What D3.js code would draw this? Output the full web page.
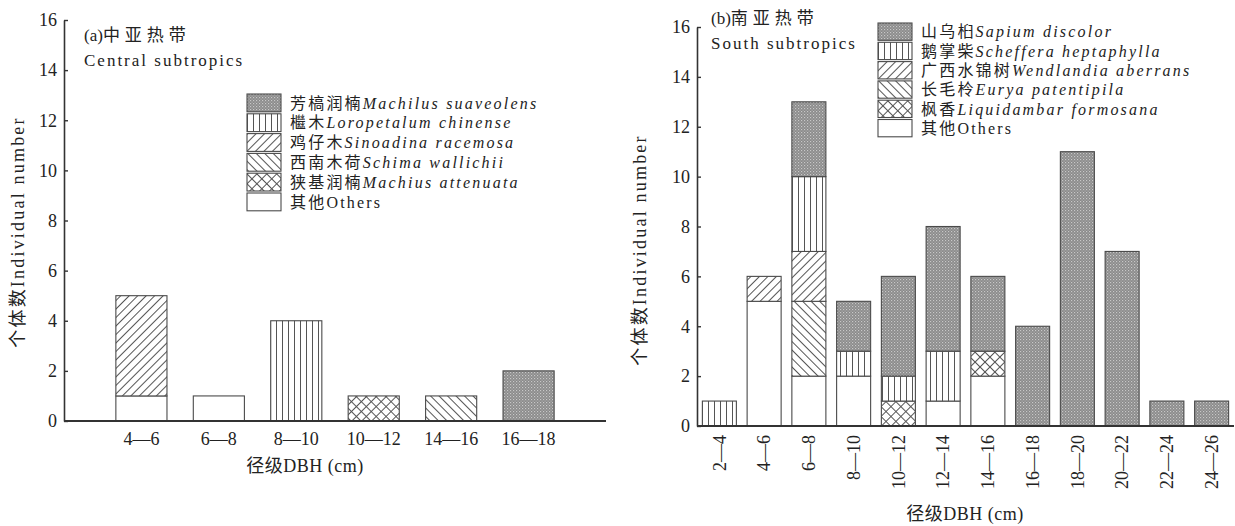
<!DOCTYPE html>
<html>
<head>
<meta charset="utf-8">
<script src="https://cdn.jsdelivr.net/npm/d3@7"></script>
<style>
  body { margin: 0; background: #fff; }
  svg { display: block; }
</style>
</head>
<body>
<svg id="chart" width="1235" height="526"></svg>
<script>
// ---- panel (a) data ----
const catsA = ['4—6', '6—8', '8—10', '10—12', '14—16', '16—18'];
const aSuaveolens = [0, 0, 0, 0, 0, 2];
const aLoropetalum = [0, 0, 4, 0, 0, 0];
const aSinoadina = [4, 0, 0, 0, 0, 0];
const aSchima = [0, 0, 0, 0, 1, 0];
const aAttenuata = [0, 0, 0, 1, 0, 0];
const aOthers = [1, 1, 0, 0, 0, 0];
const legendA = [
  ['芳槁润楠', 'Machilus suaveolens'],
  ['檵木', 'Loropetalum chinense'],
  ['鸡仔木', 'Sinoadina racemosa'],
  ['西南木荷', 'Schima wallichii'],
  ['狭基润楠', 'Machius attenuata'],
  ['其他', 'Others']
];

// ---- panel (b) data ----
const catsB = ['2—4', '4—6', '6—8', '8—10', '10—12', '12—14', '14—16', '16—18', '18—20', '20—22', '22—24', '24—26'];
const bSapium = [0, 0, 3, 2, 4, 5, 3, 4, 11, 7, 1, 1];
const bScheffera = [1, 0, 3, 1, 1, 2, 0, 0, 0, 0, 0, 0];
const bWendlandia = [0, 1, 2, 0, 0, 0, 0, 0, 0, 0, 0, 0];
const bEurya = [0, 0, 3, 0, 0, 0, 0, 0, 0, 0, 0, 0];
const bLiquidambar = [0, 0, 0, 0, 1, 0, 1, 0, 0, 0, 0, 0];
const bOthers = [0, 5, 2, 2, 0, 1, 2, 0, 0, 0, 0, 0];
const legendB = [
  ['山乌桕', 'Sapium discolor'],
  ['鹅掌柴', 'Scheffera heptaphylla'],
  ['广西水锦树', 'Wendlandia aberrans'],
  ['长毛柃', 'Eurya patentipila'],
  ['枫香', 'Liquidambar formosana'],
  ['其他', 'Others']
];

const yTicks = [0, 2, 4, 6, 8, 10, 12, 14, 16];
// legend order (top->bottom) uses these fills; stacks go the other way
const fills = ['url(#p-dark)', 'url(#p-vert)', 'url(#p-slash)', 'url(#p-back)', 'url(#p-cross)', '#fff'];

const SERIF = '"Liberation Serif", "Times New Roman", serif';
const CJK = '"Noto Sans CJK SC", sans-serif';

const svg = d3.select('#chart');
const defs = svg.append('defs');

// patterns
const dark = defs.append('pattern').attr('id', 'p-dark').attr('patternUnits', 'userSpaceOnUse')
  .attr('width', 3).attr('height', 3);
dark.append('rect').attr('width', 3).attr('height', 3).attr('fill', '#8a8a8a');
dark.append('rect').attr('x', 0).attr('y', 0).attr('width', 1.2).attr('height', 1.2).attr('fill', '#c8c8c8');
dark.append('rect').attr('x', 1.5).attr('y', 1.5).attr('width', 1.2).attr('height', 1.2).attr('fill', '#b0b0b0');

const hatch = (id, size, angle) => {
  const p = defs.append('pattern').attr('id', id).attr('patternUnits', 'userSpaceOnUse')
    .attr('width', size).attr('height', size);
  if (angle !== null) p.attr('patternTransform', `rotate(${angle})`);
  p.append('rect').attr('width', size).attr('height', size).attr('fill', '#fff');
  p.append('line').attr('x1', 0.5).attr('x2', 0.5).attr('y1', 0).attr('y2', size)
    .attr('stroke', '#555').attr('stroke-width', 1);
  return p;
};
hatch('p-vert', 6, null);
hatch('p-slash', 6, 45);
hatch('p-back', 6, -45);
const cross = defs.append('pattern').attr('id', 'p-cross').attr('patternUnits', 'userSpaceOnUse')
  .attr('width', 7).attr('height', 7).attr('patternTransform', 'rotate(45)');
cross.append('rect').attr('width', 7).attr('height', 7).attr('fill', '#fff');
cross.append('line').attr('x1', 0.5).attr('x2', 0.5).attr('y1', 0).attr('y2', 7).attr('stroke', '#555');
cross.append('line').attr('y1', 0.5).attr('y2', 0.5).attr('x1', 0).attr('x2', 7).attr('stroke', '#555');

// write mixed Chinese / Latin text as separate tspans so each gets its own font
const mixed = (sel, cn, latin, italic) => {
  sel.append('tspan').style('font-family', CJK).text(cn);
  sel.append('tspan').style('font-family', SERIF)
    .style('font-style', italic ? 'italic' : 'normal').text(latin);
};

function drawPanel(cfg) {
  const g = svg.append('g');
  const keys = ['others', 'cross', 'back', 'slash', 'vert', 'dark'];
  const rows = cfg.cats.map((c, i) => {
    const r = { cat: c };
    keys.forEach((k, j) => { r[k] = cfg.series[j][i]; });
    return r;
  });
  const fillOf = { dark: fills[0], vert: fills[1], slash: fills[2], back: fills[3], cross: fills[4], others: fills[5] };

  const x = d3.scaleBand().domain(cfg.cats)
    .range([cfg.x0 + cfg.edge, cfg.x1 - cfg.edge])
    .paddingInner(cfg.pad).paddingOuter(cfg.pad / 2);
  const y = d3.scaleLinear().domain([0, 16]).range([cfg.y0, cfg.y1]);

  const stacked = d3.stack().keys(keys)(rows);
  g.append('g').selectAll('g').data(stacked).enter().append('g')
    .attr('fill', d => fillOf[d.key])
    .selectAll('rect')
    .data(d => d.filter(s => s[1] - s[0] > 0))
    .enter().append('rect')
    .attr('x', d => x(d.data.cat))
    .attr('y', d => y(d[1]))
    .attr('width', x.bandwidth())
    .attr('height', d => y(d[0]) - y(d[1]))
    .attr('stroke', '#4a4a4a').attr('stroke-width', 1.1);

  // y axis, ticks pointing inward
  const yAxis = g.append('g').attr('transform', `translate(${cfg.x0},0)`)
    .call(d3.axisLeft(y).tickValues(yTicks).tickSizeInner(-4).tickSizeOuter(0).tickPadding(7));
  yAxis.select('.domain').attr('stroke', '#333').attr('stroke-width', 1.6);
  yAxis.selectAll('.tick line').attr('stroke', '#333').attr('stroke-width', 1.4);
  yAxis.selectAll('.tick text').style('font-family', SERIF).style('font-size', '18px').attr('fill', '#222');

  // x axis: plain line, labels only
  g.append('line').attr('x1', cfg.x0).attr('x2', cfg.x1).attr('y1', cfg.y0).attr('y2', cfg.y0)
    .attr('stroke', '#333').attr('stroke-width', 2);
  const lab = g.append('g').selectAll('text').data(cfg.cats).enter().append('text')
    .style('font-family', SERIF).style('font-size', '18px').attr('fill', '#222')
    .text(d => d);
  if (cfg.rotate) {
    lab.attr('text-anchor', 'end')
      .attr('transform', d => `translate(${x(d) + x.bandwidth() / 2},${cfg.y0 + 9}) rotate(-90)`)
      .attr('dy', '0.35em');
  } else {
    lab.attr('text-anchor', 'middle')
      .attr('x', d => x(d) + x.bandwidth() / 2)
      .attr('y', cfg.y0 + 24);
  }

  // axis titles
  const xt = g.append('text').attr('text-anchor', 'middle').style('font-size', '18px').attr('fill', '#222')
    .attr('letter-spacing', 0.5)
    .attr('x', cfg.xTitle[0]).attr('y', cfg.xTitle[1]);
  mixed(xt, '径级', 'DBH (cm)', false);
  const yt = g.append('text').attr('text-anchor', 'middle').style('font-size', '18px').attr('fill', '#222')
    .attr('letter-spacing', 2.2)
    .attr('transform', `translate(${cfg.yTitle[0]},${cfg.yTitle[1]}) rotate(-90)`);
  mixed(yt, '个体数', 'Individual number', false);

  // panel annotation
  const n1 = g.append('text').attr('x', cfg.note[0]).attr('y', cfg.note[1]).style('font-size', '17px')
    .attr('fill', '#222');
  n1.append('tspan').style('font-family', SERIF).text(cfg.noteText[0]);
  n1.append('tspan').style('font-family', CJK).attr('letter-spacing', 5).text(cfg.noteText[1]);
  g.append('text').attr('x', cfg.note[0]).attr('y', cfg.note[1] + 25).style('font-size', '17px')
    .style('font-family', SERIF).attr('fill', '#222').attr('letter-spacing', 2).text(cfg.noteText[2]);

  // legend
  const leg = g.append('g').attr('transform', `translate(${cfg.legend[0]},${cfg.legend[1]})`);
  const item = leg.selectAll('g').data(cfg.legendItems).enter().append('g')
    .attr('transform', (d, i) => `translate(0,${i * cfg.legStep})`);
  item.append('rect').attr('width', 34).attr('height', cfg.legStep - 2)
    .attr('fill', (d, i) => fills[i]).attr('stroke', '#4a4a4a').attr('stroke-width', 1.1);
  item.append('text').attr('x', 43).attr('y', (cfg.legStep - 2) / 2).attr('dy', '0.36em')
    .style('font-size', '16px').attr('fill', '#222').attr('letter-spacing', 2.2)
    .each(function (d) { mixed(d3.select(this), d[0], d[1], d[1] !== 'Others'); });
}

drawPanel({
  cats: catsA,
  series: [aOthers, aAttenuata, aSchima, aSinoadina, aLoropetalum, aSuaveolens],
  x0: 64, x1: 606, edge: 38.7, pad: 0.34,
  y0: 421, y1: 20,
  rotate: false,
  xTitle: [305, 472], yTitle: [24, 232],
  note: [84, 41], noteText: ['(a)', '中亚热带', 'Central subtropics'],
  legend: [247, 94], legStep: 19.8, legendItems: legendA
});

drawPanel({
  cats: catsB,
  series: [bOthers, bLiquidambar, bEurya, bWendlandia, bScheffera, bSapium],
  x0: 697, x1: 1234, edge: 0, pad: 0.24,
  y0: 426, y1: 27,
  rotate: true,
  xTitle: [965, 520], yTitle: [646, 250],
  note: [711, 24], noteText: ['(b)', '南亚热带', 'South subtropics'],
  legend: [878, 23], legStep: 19.3, legendItems: legendB
});
</script>
</body>
</html>
